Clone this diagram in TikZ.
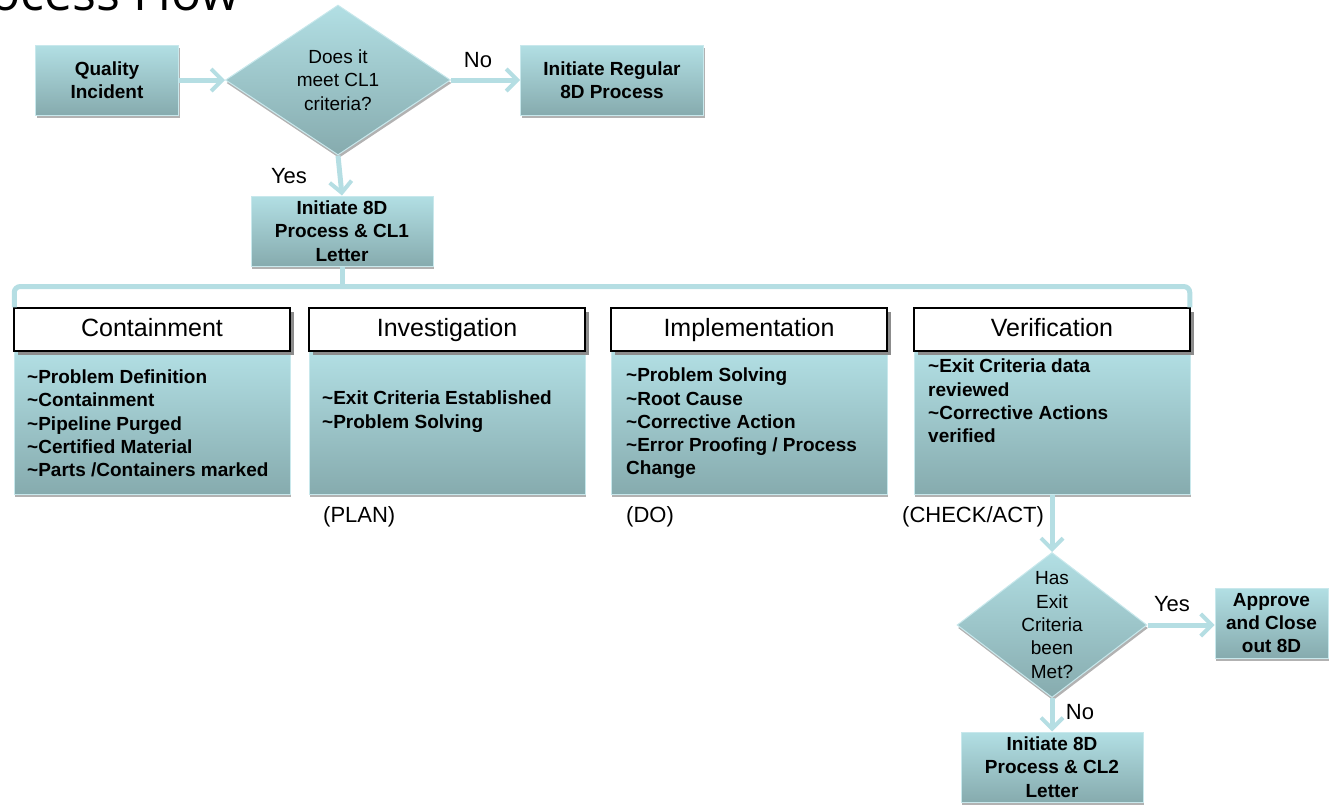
\documentclass[tikz,border=0pt]{standalone}
\usepackage{fontspec}
\setmainfont{Liberation Sans}
\newfontfamily\titlefont{Open Sans}
\usetikzlibrary{shapes.geometric,shadows,arrows.meta,calc}

\definecolor{boxtop}{RGB}{178,223,228}
\definecolor{boxbot}{RGB}{134,171,174}
\definecolor{flowcol}{RGB}{181,222,227}
\definecolor{edgecol}{RGB}{200,232,236}

\tikzset{
  stepbox/.style={rectangle, draw=edgecol, line width=1pt, top color=boxtop, bottom color=boxbot,
    inner sep=0pt, align=center, font=\fontsize{19}{23.3}\selectfont\bfseries,
    drop shadow={shadow xshift=1pt, shadow yshift=-3pt, opacity=0.3, fill=black}},
  question/.style={diamond, draw=edgecol, line width=1pt, top color=boxtop, bottom color=boxbot,
    inner sep=-20pt, align=center, font=\fontsize{19}{23.3}\selectfont,
    drop shadow={shadow xshift=1pt, shadow yshift=-3pt, opacity=0.3, fill=black}},
  phasehead/.style={rectangle, draw=black, line width=1.5pt, fill=white, inner sep=0pt,
    minimum width=276pt, minimum height=43pt, text height=18pt, text depth=5pt,
    font=\fontsize{25}{30}\selectfont,
    drop shadow={shadow xshift=4pt, shadow yshift=-4pt, opacity=1, fill=gray!90}},
  phasebody/.style={stepbox, minimum width=276pt, minimum height=143pt},
  bodytext/.style={anchor=west, align=left, inner sep=0pt, font=\fontsize{19}{23.3}\selectfont\bfseries},
  tag/.style={inner sep=0pt, font=\fontsize{22}{26}\selectfont},
  flow/.style={draw=flowcol, line width=5pt, -{Straight Barb[length=11pt, width=22pt, line width=4pt]}},
  branch/.style={draw=flowcol, line width=5pt, rounded corners=6pt}
}

\begin{document}
\begin{tikzpicture}[x=1pt, y=-1pt]  % one unit = one pixel, y going down
    \useasboundingbox (0,0) rectangle (1329,804);

    % Title, cut at the top edge
    \node[anchor=base east, inner sep=0pt, font=\titlefont\fontsize{50}{60}\selectfont] (title) at (240,10) {Process Flow};

    % First decision
    \node[stepbox, minimum width=143pt, minimum height=70pt] (qi) at (107,80) {Quality\\Incident};
    \node[question, minimum width=225pt, minimum height=150pt] (cl1q) at (338,80) {Does it\\meet CL1\\criteria?};
    \node[stepbox, minimum width=183pt, minimum height=70pt] (reg) at (612,80) {Initiate Regular\\8D Process};
    \node[stepbox, minimum width=182pt, minimum height=70pt] (cl1) at (342,231) {Initiate 8D\\Process \& CL1\\Letter};

    \draw[flow] (qi.east) -- (cl1q.west);
    \draw[flow] (cl1q.east) -- (reg.west);
    \draw[flow] (cl1q.south) -- (cl1.north);
    \node[tag] (nolbl) at (478,60) {No};
    \node[tag] (yeslbl) at (289,176) {Yes};

    % Phase bodies
    \node[phasebody] (contbody) at (152,422.5) {};
    \node[phasebody] (invbody) at (447,422.5) {};
    \node[phasebody] (implbody) at (749,422.5) {};
    \node[phasebody] (veribody) at (1052,422.5) {};

    % Phase headers
    \node[phasehead] (conthead) at (152,329.5) {Containment};
    \node[phasehead] (invhead) at (447,329.5) {Investigation};
    \node[phasehead] (implhead) at (749,329.5) {Implementation};
    \node[phasehead] (verihead) at (1052,329.5) {Verification};

    % Bracket from the CL1 letter to the four phases
    \draw[branch] (cl1.south) -- ($(cl1.south)+(0,20)$);
    \draw[branch] ($(conthead.north west)+(1,0)$) |- ($(cl1.south)+(0,20)$) -| ($(verihead.north east)+(-1,0)$);

    % Phase contents
    \node[bodytext] (conttext) at (27,423.5) {\textasciitilde Problem Definition\\\textasciitilde Containment\\\textasciitilde Pipeline Purged\\\textasciitilde Certified Material\\\textasciitilde Parts /Containers marked};
    \node[bodytext] (invtext) at (322,411.5) {\textasciitilde Exit Criteria Established\\\textasciitilde Problem Solving};
    \node[bodytext] (impltext) at (626,423.5) {\textasciitilde Problem Solving\\\textasciitilde Root Cause\\\textasciitilde Corrective Action\\\textasciitilde Error Proofing / Process\\Change};
    \node[bodytext] (veritext) at (928,401) {\textasciitilde Exit Criteria data\\reviewed\\\textasciitilde Corrective Actions\\verified};

    \node[tag, anchor=west] (plan) at (323,517) {(PLAN)};
    \node[tag, anchor=west] (do) at (626,517) {(DO)};
    \node[tag, anchor=west] (check) at (902,517) {(CHECK/ACT)};

    % Second decision
    \node[question, minimum width=190pt, minimum height=145pt] (cl2q) at (1052,625) {Has\\Exit\\Criteria\\been\\Met?};
    \node[stepbox, minimum width=113pt, minimum height=70pt] (close) at (1271.5,623) {Approve\\and Close\\out 8D};
    \node[stepbox, minimum width=182pt, minimum height=70pt] (cl2) at (1052,767) {Initiate 8D\\Process \& CL2\\Letter};

    \draw[flow] (veribody.south) -- (cl2q.north);
    \draw[flow] (cl2q.east) -- (cl2q.east -| close.west);
    \draw[flow] (cl2q.south) -- (cl2.north);
    \node[tag] (yes2lbl) at (1172,604) {Yes};
    \node[tag] (no2lbl) at (1080,712) {No};
\end{tikzpicture}
\end{document}
